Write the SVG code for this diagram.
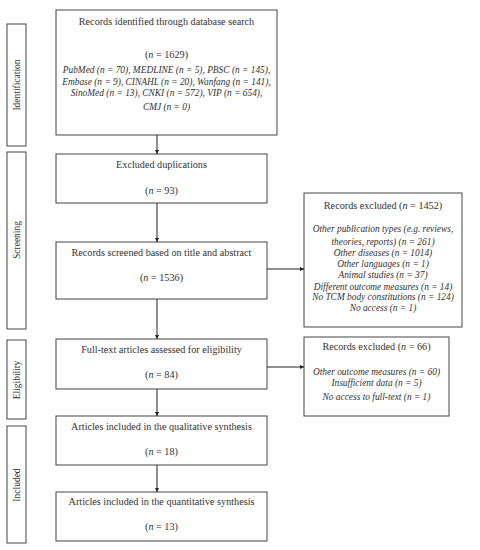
<svg xmlns="http://www.w3.org/2000/svg" width="480" height="550" viewBox="0 0 480 550">
<defs>
<marker id="ah" viewBox="0 0 10 10" refX="10" refY="5" markerWidth="4" markerHeight="4" orient="auto" markerUnits="userSpaceOnUse">
<path d="M0,0 L10,5 L0,10 z" fill="#222"/>
</marker>
</defs>
<style>
rect{fill:#fff;stroke:#444;stroke-width:1}
text{font-family:"Liberation Serif","Times New Roman",serif;font-size:10.2px;fill:#333;text-anchor:middle}
.i{font-style:italic;font-size:9.4px}
tspan.i{font-size:10.2px}
.side{font-size:9.5px}
line{stroke:#222;stroke-width:1}
</style>
<rect x="0" y="0" width="480" height="550" style="fill:#fff;stroke:none"/>
<g id="side-identification"><rect x="7" y="24" width="19" height="122"/><text class="side" transform="translate(19.5,85) rotate(-90)">Identification</text></g>
<g id="side-screening"><rect x="7" y="152" width="19" height="177"/><text class="side" transform="translate(19.5,240) rotate(-90)">Screening</text></g>
<g id="side-eligibility"><rect x="7" y="340" width="19" height="79"/><text class="side" transform="translate(19.5,380) rotate(-90)">Eligibility</text></g>
<g id="side-included"><rect x="7" y="426" width="19" height="117"/><text class="side" transform="translate(19.5,485) rotate(-90)">Included</text></g>

<g id="n1"><rect x="56" y="10" width="221" height="125"/>
<text x="166.5" y="25">Records identified through database search</text>
<text x="166.5" y="58">(<tspan class="i">n</tspan> = 1629)</text>
<text class="i" x="166.5" y="73">PubMed (n = 70), MEDLINE (n = 5), PBSC (n = 145),</text>
<text class="i" x="166.5" y="85">Embase (n = 9), CINAHL (n = 20), Wanfang (n = 141),</text>
<text class="i" x="166.5" y="96">SinoMed (n = 13), CNKI (n = 572), VIP (n = 654),</text>
<text class="i" x="166.5" y="110">CMJ (n = 0)</text>
</g>
<g id="n2"><rect x="56" y="154" width="211" height="49"/>
<text x="161.5" y="168">Excluded duplications</text>
<text x="161.5" y="194">(<tspan class="i">n</tspan> = 93)</text>
</g>
<g id="n3"><rect x="56" y="242" width="211" height="57"/>
<text x="161.5" y="256">Records screened based on title and abstract</text>
<text x="161.5" y="281">(<tspan class="i">n</tspan> = 1536)</text>
</g>
<g id="n4"><rect x="56" y="339" width="211" height="50"/>
<text x="161.5" y="353">Full-text articles assessed for eligibility</text>
<text x="161.5" y="378">(<tspan class="i">n</tspan> = 84)</text>
</g>
<g id="n5"><rect x="56" y="416" width="211" height="49"/>
<text x="161.5" y="430">Articles included in the qualitative synthesis</text>
<text x="161.5" y="455">(<tspan class="i">n</tspan> = 18)</text>
</g>
<g id="n6"><rect x="56" y="492" width="211" height="49"/>
<text x="161.5" y="505">Articles included in the quantitative synthesis</text>
<text x="161.5" y="530">(<tspan class="i">n</tspan> = 13)</text>
</g>
<g id="x1"><rect x="304" y="193" width="158" height="134"/>
<text x="383" y="209">Records excluded (<tspan class="i">n</tspan> = 1452)</text>
<text class="i" x="383" y="232">Other publication types (e.g. reviews,</text>
<text class="i" x="383" y="245">theories, reports) (n = 261)</text>
<text class="i" x="383" y="256">Other diseases (n = 1014)</text>
<text class="i" x="383" y="267">Other languages (n = 1)</text>
<text class="i" x="383" y="278">Animal studies (n = 37)</text>
<text class="i" x="383" y="290">Different outcome measures (n = 14)</text>
<text class="i" x="383" y="300">No TCM body constitutions (n = 124)</text>
<text class="i" x="383" y="311">No access (n = 1)</text>
</g>
<g id="x2"><rect x="304" y="337" width="145" height="79"/>
<text x="376.5" y="350">Records excluded (<tspan class="i">n</tspan> = 66)</text>
<text class="i" x="376.5" y="375">Other outcome measures (n = 60)</text>
<text class="i" x="376.5" y="386">Insufficient data (n = 5)</text>
<text class="i" x="376.5" y="400">No access to full-text (n = 1)</text>
</g>
<g id="connectors">
<line x1="157" y1="135" x2="157" y2="154" marker-end="url(#ah)"/>
<line x1="157" y1="203" x2="157" y2="242" marker-end="url(#ah)"/>
<line x1="157" y1="299" x2="157" y2="339" marker-end="url(#ah)"/>
<line x1="157" y1="389" x2="157" y2="416" marker-end="url(#ah)"/>
<line x1="157" y1="465" x2="157" y2="492" marker-end="url(#ah)"/>
<line x1="267" y1="269" x2="304" y2="269" marker-end="url(#ah)"/>
<line x1="267" y1="367" x2="304" y2="367" marker-end="url(#ah)"/>
</g>
</svg>
